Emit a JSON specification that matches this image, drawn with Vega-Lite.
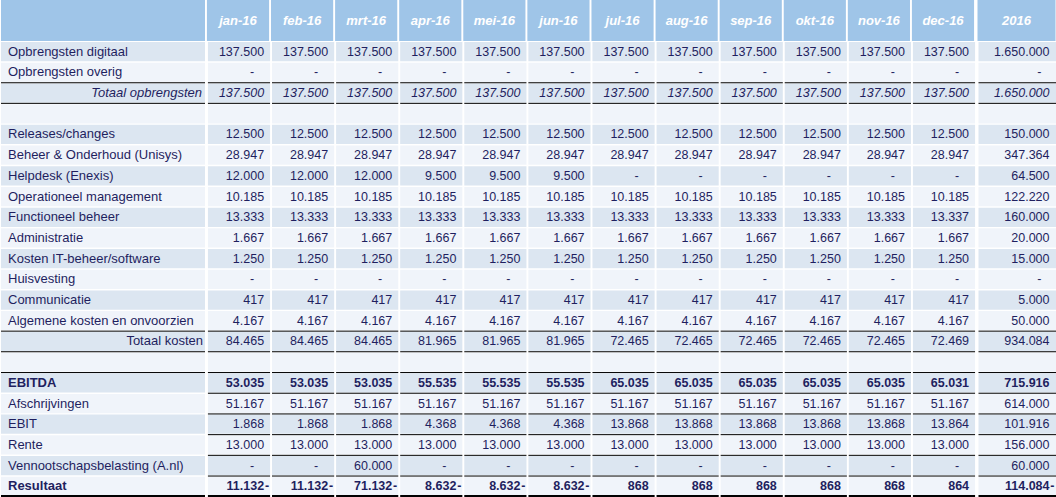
{
  "$schema": "https://vega.github.io/schema/vega-lite/v6.json",
  "padding": 0,
  "background": "white",
  "spacing": 0,
  "config": {
    "view": {"stroke": null},
    "concat": {"spacing": 0},
    "locale": {"number": {"decimal": ",", "thousands": ".", "grouping": [3], "currency": ["€ ", ""], "minus": ""}},
    "text": {"font": "Liberation Sans", "fontSize": 12.5, "color": "#1F1F5F", "baseline": "middle"}
  },
  "datasets": {
    "kolommen": [
      {"kolom": "jan-16"}, {"kolom": "feb-16"}, {"kolom": "mrt-16"}, {"kolom": "apr-16"}, {"kolom": "mei-16"}, {"kolom": "jun-16"},
      {"kolom": "jul-16"}, {"kolom": "aug-16"}, {"kolom": "sep-16"}, {"kolom": "okt-16"}, {"kolom": "nov-16"}, {"kolom": "dec-16"}
    ],
    "tabel": [
      {"nr": 1, "post": "Opbrengsten digitaal", "jan-16": 137500, "feb-16": 137500, "mrt-16": 137500, "apr-16": 137500, "mei-16": 137500, "jun-16": 137500, "jul-16": 137500, "aug-16": 137500, "sep-16": 137500, "okt-16": 137500, "nov-16": 137500, "dec-16": 137500, "2016": 1650000},
      {"nr": 2, "post": "Opbrengsten overig", "jan-16": 0, "feb-16": 0, "mrt-16": 0, "apr-16": 0, "mei-16": 0, "jun-16": 0, "jul-16": 0, "aug-16": 0, "sep-16": 0, "okt-16": 0, "nov-16": 0, "dec-16": 0, "2016": 0},
      {"nr": 3, "post": "Totaal opbrengsten", "jan-16": 137500, "feb-16": 137500, "mrt-16": 137500, "apr-16": 137500, "mei-16": 137500, "jun-16": 137500, "jul-16": 137500, "aug-16": 137500, "sep-16": 137500, "okt-16": 137500, "nov-16": 137500, "dec-16": 137500, "2016": 1650000},
      {"nr": 4, "post": ""},
      {"nr": 5, "post": "Releases/changes", "jan-16": 12500, "feb-16": 12500, "mrt-16": 12500, "apr-16": 12500, "mei-16": 12500, "jun-16": 12500, "jul-16": 12500, "aug-16": 12500, "sep-16": 12500, "okt-16": 12500, "nov-16": 12500, "dec-16": 12500, "2016": 150000},
      {"nr": 6, "post": "Beheer & Onderhoud (Unisys)", "jan-16": 28947, "feb-16": 28947, "mrt-16": 28947, "apr-16": 28947, "mei-16": 28947, "jun-16": 28947, "jul-16": 28947, "aug-16": 28947, "sep-16": 28947, "okt-16": 28947, "nov-16": 28947, "dec-16": 28947, "2016": 347364},
      {"nr": 7, "post": "Helpdesk (Enexis)", "jan-16": 12000, "feb-16": 12000, "mrt-16": 12000, "apr-16": 9500, "mei-16": 9500, "jun-16": 9500, "jul-16": 0, "aug-16": 0, "sep-16": 0, "okt-16": 0, "nov-16": 0, "dec-16": 0, "2016": 64500},
      {"nr": 8, "post": "Operationeel management", "jan-16": 10185, "feb-16": 10185, "mrt-16": 10185, "apr-16": 10185, "mei-16": 10185, "jun-16": 10185, "jul-16": 10185, "aug-16": 10185, "sep-16": 10185, "okt-16": 10185, "nov-16": 10185, "dec-16": 10185, "2016": 122220},
      {"nr": 9, "post": "Functioneel beheer", "jan-16": 13333, "feb-16": 13333, "mrt-16": 13333, "apr-16": 13333, "mei-16": 13333, "jun-16": 13333, "jul-16": 13333, "aug-16": 13333, "sep-16": 13333, "okt-16": 13333, "nov-16": 13333, "dec-16": 13337, "2016": 160000},
      {"nr": 10, "post": "Administratie", "jan-16": 1667, "feb-16": 1667, "mrt-16": 1667, "apr-16": 1667, "mei-16": 1667, "jun-16": 1667, "jul-16": 1667, "aug-16": 1667, "sep-16": 1667, "okt-16": 1667, "nov-16": 1667, "dec-16": 1667, "2016": 20000},
      {"nr": 11, "post": "Kosten IT-beheer/software", "jan-16": 1250, "feb-16": 1250, "mrt-16": 1250, "apr-16": 1250, "mei-16": 1250, "jun-16": 1250, "jul-16": 1250, "aug-16": 1250, "sep-16": 1250, "okt-16": 1250, "nov-16": 1250, "dec-16": 1250, "2016": 15000},
      {"nr": 12, "post": "Huisvesting", "jan-16": 0, "feb-16": 0, "mrt-16": 0, "apr-16": 0, "mei-16": 0, "jun-16": 0, "jul-16": 0, "aug-16": 0, "sep-16": 0, "okt-16": 0, "nov-16": 0, "dec-16": 0, "2016": 0},
      {"nr": 13, "post": "Communicatie", "jan-16": 417, "feb-16": 417, "mrt-16": 417, "apr-16": 417, "mei-16": 417, "jun-16": 417, "jul-16": 417, "aug-16": 417, "sep-16": 417, "okt-16": 417, "nov-16": 417, "dec-16": 417, "2016": 5000},
      {"nr": 14, "post": "Algemene kosten en onvoorzien", "jan-16": 4167, "feb-16": 4167, "mrt-16": 4167, "apr-16": 4167, "mei-16": 4167, "jun-16": 4167, "jul-16": 4167, "aug-16": 4167, "sep-16": 4167, "okt-16": 4167, "nov-16": 4167, "dec-16": 4167, "2016": 50000},
      {"nr": 15, "post": "Totaal kosten", "jan-16": 84465, "feb-16": 84465, "mrt-16": 84465, "apr-16": 81965, "mei-16": 81965, "jun-16": 81965, "jul-16": 72465, "aug-16": 72465, "sep-16": 72465, "okt-16": 72465, "nov-16": 72465, "dec-16": 72469, "2016": 934084},
      {"nr": 16, "post": ""},
      {"nr": 17, "post": "EBITDA", "jan-16": 53035, "feb-16": 53035, "mrt-16": 53035, "apr-16": 55535, "mei-16": 55535, "jun-16": 55535, "jul-16": 65035, "aug-16": 65035, "sep-16": 65035, "okt-16": 65035, "nov-16": 65035, "dec-16": 65031, "2016": 715916},
      {"nr": 18, "post": "Afschrijvingen", "jan-16": 51167, "feb-16": 51167, "mrt-16": 51167, "apr-16": 51167, "mei-16": 51167, "jun-16": 51167, "jul-16": 51167, "aug-16": 51167, "sep-16": 51167, "okt-16": 51167, "nov-16": 51167, "dec-16": 51167, "2016": 614000},
      {"nr": 19, "post": "EBIT", "jan-16": 1868, "feb-16": 1868, "mrt-16": 1868, "apr-16": 4368, "mei-16": 4368, "jun-16": 4368, "jul-16": 13868, "aug-16": 13868, "sep-16": 13868, "okt-16": 13868, "nov-16": 13868, "dec-16": 13864, "2016": 101916},
      {"nr": 20, "post": "Rente", "jan-16": 13000, "feb-16": 13000, "mrt-16": 13000, "apr-16": 13000, "mei-16": 13000, "jun-16": 13000, "jul-16": 13000, "aug-16": 13000, "sep-16": 13000, "okt-16": 13000, "nov-16": 13000, "dec-16": 13000, "2016": 156000},
      {"nr": 21, "post": "Vennootschapsbelasting (A.nl)", "jan-16": 0, "feb-16": 0, "mrt-16": 60000, "apr-16": 0, "mei-16": 0, "jun-16": 0, "jul-16": 0, "aug-16": 0, "sep-16": 0, "okt-16": 0, "nov-16": 0, "dec-16": 0, "2016": 60000},
      {"nr": 22, "post": "Resultaat", "jan-16": -11132, "feb-16": -11132, "mrt-16": -71132, "apr-16": -8632, "mei-16": -8632, "jun-16": -8632, "jul-16": 868, "aug-16": 868, "sep-16": 868, "okt-16": 868, "nov-16": 868, "dec-16": 864, "2016": -114084}
    ]
  },
  "vconcat": [
    {
      "spacing": 0,
      "hconcat": [
        {
          "width": 204, "height": 41,
          "data": {"values": [{"kop": "post"}]},
          "mark": {"type": "rect", "color": "#9FC5E8", "strokeWidth": 0},
          "encoding": {
            "x": {"datum": "post", "type": "nominal", "axis": null, "scale": {"paddingInner": 0, "paddingOuter": 0}},
            "y": {"datum": "kop", "type": "nominal", "axis": null, "scale": {"paddingInner": 0, "paddingOuter": 0}}
          }
        },
        {
          "width": 771, "height": 41,
          "data": {"name": "kolommen"},
          "encoding": {
            "x": {"field": "kolom", "type": "nominal", "axis": null, "scale": {"domain": ["jan-16","feb-16","mrt-16","apr-16","mei-16","jun-16","jul-16","aug-16","sep-16","okt-16","nov-16","dec-16"], "paddingInner": 0.03, "paddingOuter": 0.03}},
            "y": {"datum": "kop", "type": "nominal", "axis": null, "scale": {"paddingInner": 0, "paddingOuter": 0}}
          },
          "layer": [
            {"mark": {"type": "rect", "color": "#9FC5E8", "strokeWidth": 0}},
            {"mark": {"type": "text", "color": "white", "fontWeight": "bold", "fontStyle": "italic", "fontSize": 13}, "encoding": {"text": {"field": "kolom"}}}
          ]
        },
        {
          "width": 81, "height": 41,
          "data": {"values": [{"kolom": "2016"}]},
          "encoding": {
            "x": {"field": "kolom", "type": "nominal", "axis": null, "scale": {"domain": ["2016"], "paddingInner": 0, "paddingOuter": 0.0192}},
            "y": {"datum": "kop", "type": "nominal", "axis": null, "scale": {"paddingInner": 0, "paddingOuter": 0}}
          },
          "layer": [
            {"mark": {"type": "rect", "color": "#9FC5E8", "strokeWidth": 0}},
            {"mark": {"type": "text", "color": "white", "fontWeight": "bold", "fontStyle": "italic", "fontSize": 13}, "encoding": {"text": {"field": "kolom"}}}
          ]
        }
      ]
    },
    {
      "spacing": 0,
      "hconcat": [
        {
          "width": 204, "height": 456,
          "data": {"name": "tabel"},
          "layer": [
            {
              "mark": {"type": "rect", "strokeWidth": 0},
              "encoding": {
                "x": {"datum": "post", "type": "nominal", "axis": null, "scale": {"paddingInner": 0, "paddingOuter": 0}},
                "y": {"field": "nr", "type": "ordinal", "axis": null, "scale": {"paddingInner": 0.07, "paddingOuter": 0.05}},
                "color": {"condition": {"test": "datum.nr % 2 === 1", "value": "#DCE6F1"}, "value": "#F0F4FA"}
              }
            },
            {
              "transform": [{"filter": "indexof(['Totaal opbrengsten','Totaal kosten','EBITDA'], datum.post) >= 0"}],
              "mark": {"type": "rule", "color": "black", "strokeWidth": 1},
              "encoding": {"y": {"field": "nr", "type": "ordinal", "axis": null, "bandPosition": -0.035, "scale": {"paddingInner": 0.07, "paddingOuter": 0.05}}}
            },
            {
              "transform": [{"filter": "indexof(['Totaal opbrengsten','Totaal kosten'], datum.post) >= 0"}],
              "mark": {"type": "rule", "color": "black", "strokeWidth": 1},
              "encoding": {"y": {"field": "nr", "type": "ordinal", "axis": null, "bandPosition": 1.035, "scale": {"paddingInner": 0.07, "paddingOuter": 0.05}}}
            },
            {
              "transform": [{"filter": "datum.post === 'Resultaat'"}],
              "mark": {"type": "rule", "color": "black", "strokeWidth": 2},
              "encoding": {"y": {"field": "nr", "type": "ordinal", "axis": null, "bandPosition": 1, "scale": {"paddingInner": 0.07, "paddingOuter": 0.05}}}
            },
            {
              "transform": [{"filter": "datum.post !== '' && indexof(['Totaal opbrengsten','Totaal kosten','EBITDA','Resultaat'], datum.post) < 0"}],
              "mark": {"type": "text", "align": "left", "dx": 7, "fontSize": 13},
              "encoding": {
                "x": {"datum": "post", "type": "nominal", "axis": null, "bandPosition": 0, "scale": {"paddingInner": 0, "paddingOuter": 0}},
                "y": {"field": "nr", "type": "ordinal", "axis": null, "scale": {"paddingInner": 0.07, "paddingOuter": 0.05}},
                "text": {"field": "post"}
              }
            },
            {
              "transform": [{"filter": "indexof(['EBITDA','Resultaat'], datum.post) >= 0"}],
              "mark": {"type": "text", "align": "left", "dx": 7, "fontWeight": "bold", "fontSize": 13},
              "encoding": {
                "x": {"datum": "post", "type": "nominal", "axis": null, "bandPosition": 0, "scale": {"paddingInner": 0, "paddingOuter": 0}},
                "y": {"field": "nr", "type": "ordinal", "axis": null, "scale": {"paddingInner": 0.07, "paddingOuter": 0.05}},
                "text": {"field": "post"}
              }
            },
            {
              "transform": [{"filter": "datum.post === 'Totaal opbrengsten'"}],
              "mark": {"type": "text", "align": "right", "dx": -3, "fontStyle": "italic", "fontSize": 13},
              "encoding": {
                "x": {"datum": "post", "type": "nominal", "axis": null, "bandPosition": 1, "scale": {"paddingInner": 0, "paddingOuter": 0}},
                "y": {"field": "nr", "type": "ordinal", "axis": null, "scale": {"paddingInner": 0.07, "paddingOuter": 0.05}},
                "text": {"field": "post"}
              }
            },
            {
              "transform": [{"filter": "datum.post === 'Totaal kosten'"}],
              "mark": {"type": "text", "align": "right", "dx": -2, "fontSize": 13},
              "encoding": {
                "x": {"datum": "post", "type": "nominal", "axis": null, "bandPosition": 1, "scale": {"paddingInner": 0, "paddingOuter": 0}},
                "y": {"field": "nr", "type": "ordinal", "axis": null, "scale": {"paddingInner": 0.07, "paddingOuter": 0.05}},
                "text": {"field": "post"}
              }
            }
          ]
        },
        {
          "width": 771, "height": 456,
          "data": {"name": "tabel"},
          "transform": [{"fold": ["jan-16","feb-16","mrt-16","apr-16","mei-16","jun-16","jul-16","aug-16","sep-16","okt-16","nov-16","dec-16"], "as": ["kolom", "waarde"]}],
          "layer": [
            {
              "mark": {"type": "rect", "strokeWidth": 0},
              "encoding": {
                "x": {"field": "kolom", "type": "nominal", "axis": null, "scale": {"domain": ["jan-16","feb-16","mrt-16","apr-16","mei-16","jun-16","jul-16","aug-16","sep-16","okt-16","nov-16","dec-16"], "paddingInner": 0.03, "paddingOuter": 0.03}},
                "y": {"field": "nr", "type": "ordinal", "axis": null, "scale": {"paddingInner": 0.07, "paddingOuter": 0.05}},
                "color": {"condition": {"test": "datum.nr % 2 === 1", "value": "#DCE6F1"}, "value": "#F0F4FA"}
              }
            },
            {
              "transform": [{"filter": "indexof(['Totaal opbrengsten','Totaal kosten','EBITDA','Afschrijvingen','EBIT','Rente','Vennootschapsbelasting (A.nl)','Resultaat'], datum.post) >= 0"}],
              "mark": {"type": "rule", "color": "black", "strokeWidth": 1},
              "encoding": {
                "x": {"field": "kolom", "type": "nominal", "axis": null, "bandPosition": 0, "scale": {"domain": ["jan-16","feb-16","mrt-16","apr-16","mei-16","jun-16","jul-16","aug-16","sep-16","okt-16","nov-16","dec-16"], "paddingInner": 0.03, "paddingOuter": 0.03}},
                "x2": {"field": "kolom", "bandPosition": 1},
                "y": {"field": "nr", "type": "ordinal", "axis": null, "bandPosition": -0.035, "scale": {"paddingInner": 0.07, "paddingOuter": 0.05}}
              }
            },
            {
              "transform": [{"filter": "indexof(['Totaal opbrengsten','Totaal kosten'], datum.post) >= 0"}],
              "mark": {"type": "rule", "color": "black", "strokeWidth": 1},
              "encoding": {
                "x": {"field": "kolom", "type": "nominal", "axis": null, "bandPosition": 0, "scale": {"domain": ["jan-16","feb-16","mrt-16","apr-16","mei-16","jun-16","jul-16","aug-16","sep-16","okt-16","nov-16","dec-16"], "paddingInner": 0.03, "paddingOuter": 0.03}},
                "x2": {"field": "kolom", "bandPosition": 1},
                "y": {"field": "nr", "type": "ordinal", "axis": null, "bandPosition": 1.035, "scale": {"paddingInner": 0.07, "paddingOuter": 0.05}}
              }
            },
            {
              "transform": [{"filter": "datum.post === 'Resultaat'"}],
              "mark": {"type": "rule", "color": "black", "strokeWidth": 2},
              "encoding": {
                "x": {"field": "kolom", "type": "nominal", "axis": null, "bandPosition": 0, "scale": {"domain": ["jan-16","feb-16","mrt-16","apr-16","mei-16","jun-16","jul-16","aug-16","sep-16","okt-16","nov-16","dec-16"], "paddingInner": 0.03, "paddingOuter": 0.03}},
                "x2": {"field": "kolom", "bandPosition": 1},
                "y": {"field": "nr", "type": "ordinal", "axis": null, "bandPosition": 1, "scale": {"paddingInner": 0.07, "paddingOuter": 0.05}}
              }
            },
            {
              "transform": [{"filter": "isValid(datum.waarde) && datum.waarde !== 0 && indexof(['Totaal opbrengsten','EBITDA','Resultaat'], datum.post) < 0"}],
              "mark": {"type": "text", "align": "right", "dx": -6},
              "encoding": {
                "x": {"field": "kolom", "type": "nominal", "axis": null, "bandPosition": 1, "scale": {"domain": ["jan-16","feb-16","mrt-16","apr-16","mei-16","jun-16","jul-16","aug-16","sep-16","okt-16","nov-16","dec-16"], "paddingInner": 0.03, "paddingOuter": 0.03}},
                "y": {"field": "nr", "type": "ordinal", "axis": null, "scale": {"paddingInner": 0.07, "paddingOuter": 0.05}},
                "text": {"field": "waarde", "type": "quantitative", "format": ",.0f"}
              }
            },
            {
              "transform": [{"filter": "isValid(datum.waarde) && datum.waarde !== 0 && datum.post === 'Totaal opbrengsten'"}],
              "mark": {"type": "text", "align": "right", "dx": -6, "fontStyle": "italic"},
              "encoding": {
                "x": {"field": "kolom", "type": "nominal", "axis": null, "bandPosition": 1, "scale": {"domain": ["jan-16","feb-16","mrt-16","apr-16","mei-16","jun-16","jul-16","aug-16","sep-16","okt-16","nov-16","dec-16"], "paddingInner": 0.03, "paddingOuter": 0.03}},
                "y": {"field": "nr", "type": "ordinal", "axis": null, "scale": {"paddingInner": 0.07, "paddingOuter": 0.05}},
                "text": {"field": "waarde", "type": "quantitative", "format": ",.0f"}
              }
            },
            {
              "transform": [{"filter": "isValid(datum.waarde) && datum.waarde !== 0 && indexof(['EBITDA','Resultaat'], datum.post) >= 0"}],
              "mark": {"type": "text", "align": "right", "dx": -6, "fontWeight": "bold"},
              "encoding": {
                "x": {"field": "kolom", "type": "nominal", "axis": null, "bandPosition": 1, "scale": {"domain": ["jan-16","feb-16","mrt-16","apr-16","mei-16","jun-16","jul-16","aug-16","sep-16","okt-16","nov-16","dec-16"], "paddingInner": 0.03, "paddingOuter": 0.03}},
                "y": {"field": "nr", "type": "ordinal", "axis": null, "scale": {"paddingInner": 0.07, "paddingOuter": 0.05}},
                "text": {"field": "waarde", "type": "quantitative", "format": ",.0f"}
              }
            },
            {
              "transform": [{"filter": "datum.waarde === 0"}],
              "mark": {"type": "text", "align": "right", "dx": -16},
              "encoding": {
                "x": {"field": "kolom", "type": "nominal", "axis": null, "bandPosition": 1, "scale": {"domain": ["jan-16","feb-16","mrt-16","apr-16","mei-16","jun-16","jul-16","aug-16","sep-16","okt-16","nov-16","dec-16"], "paddingInner": 0.03, "paddingOuter": 0.03}},
                "y": {"field": "nr", "type": "ordinal", "axis": null, "scale": {"paddingInner": 0.07, "paddingOuter": 0.05}},
                "text": {"value": "-"}
              }
            },
            {
              "transform": [{"filter": "datum.waarde < 0"}],
              "mark": {"type": "text", "align": "right", "dx": -1, "fontWeight": "bold"},
              "encoding": {
                "x": {"field": "kolom", "type": "nominal", "axis": null, "bandPosition": 1, "scale": {"domain": ["jan-16","feb-16","mrt-16","apr-16","mei-16","jun-16","jul-16","aug-16","sep-16","okt-16","nov-16","dec-16"], "paddingInner": 0.03, "paddingOuter": 0.03}},
                "y": {"field": "nr", "type": "ordinal", "axis": null, "scale": {"paddingInner": 0.07, "paddingOuter": 0.05}},
                "text": {"value": "-"}
              }
            }
          ]
        },
        {
          "width": 81, "height": 456,
          "data": {"name": "tabel"},
          "transform": [{"fold": ["2016"], "as": ["kolom", "waarde"]}],
          "layer": [
            {
              "mark": {"type": "rect", "strokeWidth": 0},
              "encoding": {
                "x": {"field": "kolom", "type": "nominal", "axis": null, "scale": {"domain": ["2016"], "paddingInner": 0, "paddingOuter": 0.0192}},
                "y": {"field": "nr", "type": "ordinal", "axis": null, "scale": {"paddingInner": 0.07, "paddingOuter": 0.05}},
                "color": {"condition": {"test": "datum.nr % 2 === 1", "value": "#DCE6F1"}, "value": "#F0F4FA"}
              }
            },
            {
              "transform": [{"filter": "indexof(['Totaal opbrengsten','Totaal kosten','EBITDA','Afschrijvingen','EBIT','Rente','Vennootschapsbelasting (A.nl)','Resultaat'], datum.post) >= 0"}],
              "mark": {"type": "rule", "color": "black", "strokeWidth": 1},
              "encoding": {
                "x": {"field": "kolom", "type": "nominal", "axis": null, "bandPosition": 0, "scale": {"domain": ["2016"], "paddingInner": 0, "paddingOuter": 0.0192}},
                "x2": {"field": "kolom", "bandPosition": 1},
                "y": {"field": "nr", "type": "ordinal", "axis": null, "bandPosition": -0.035, "scale": {"paddingInner": 0.07, "paddingOuter": 0.05}}
              }
            },
            {
              "transform": [{"filter": "indexof(['Totaal opbrengsten','Totaal kosten'], datum.post) >= 0"}],
              "mark": {"type": "rule", "color": "black", "strokeWidth": 1},
              "encoding": {
                "x": {"field": "kolom", "type": "nominal", "axis": null, "bandPosition": 0, "scale": {"domain": ["2016"], "paddingInner": 0, "paddingOuter": 0.0192}},
                "x2": {"field": "kolom", "bandPosition": 1},
                "y": {"field": "nr", "type": "ordinal", "axis": null, "bandPosition": 1.035, "scale": {"paddingInner": 0.07, "paddingOuter": 0.05}}
              }
            },
            {
              "transform": [{"filter": "datum.post === 'Resultaat'"}],
              "mark": {"type": "rule", "color": "black", "strokeWidth": 2},
              "encoding": {
                "x": {"field": "kolom", "type": "nominal", "axis": null, "bandPosition": 0, "scale": {"domain": ["2016"], "paddingInner": 0, "paddingOuter": 0.0192}},
                "x2": {"field": "kolom", "bandPosition": 1},
                "y": {"field": "nr", "type": "ordinal", "axis": null, "bandPosition": 1, "scale": {"paddingInner": 0.07, "paddingOuter": 0.05}}
              }
            },
            {
              "transform": [{"filter": "isValid(datum.waarde) && datum.waarde !== 0 && indexof(['Totaal opbrengsten','EBITDA','Resultaat'], datum.post) < 0"}],
              "mark": {"type": "text", "align": "right", "dx": -7},
              "encoding": {
                "x": {"field": "kolom", "type": "nominal", "axis": null, "bandPosition": 1, "scale": {"domain": ["2016"], "paddingInner": 0, "paddingOuter": 0.0192}},
                "y": {"field": "nr", "type": "ordinal", "axis": null, "scale": {"paddingInner": 0.07, "paddingOuter": 0.05}},
                "text": {"field": "waarde", "type": "quantitative", "format": ",.0f"}
              }
            },
            {
              "transform": [{"filter": "isValid(datum.waarde) && datum.waarde !== 0 && datum.post === 'Totaal opbrengsten'"}],
              "mark": {"type": "text", "align": "right", "dx": -7, "fontStyle": "italic"},
              "encoding": {
                "x": {"field": "kolom", "type": "nominal", "axis": null, "bandPosition": 1, "scale": {"domain": ["2016"], "paddingInner": 0, "paddingOuter": 0.0192}},
                "y": {"field": "nr", "type": "ordinal", "axis": null, "scale": {"paddingInner": 0.07, "paddingOuter": 0.05}},
                "text": {"field": "waarde", "type": "quantitative", "format": ",.0f"}
              }
            },
            {
              "transform": [{"filter": "isValid(datum.waarde) && datum.waarde !== 0 && indexof(['EBITDA','Resultaat'], datum.post) >= 0"}],
              "mark": {"type": "text", "align": "right", "dx": -7, "fontWeight": "bold"},
              "encoding": {
                "x": {"field": "kolom", "type": "nominal", "axis": null, "bandPosition": 1, "scale": {"domain": ["2016"], "paddingInner": 0, "paddingOuter": 0.0192}},
                "y": {"field": "nr", "type": "ordinal", "axis": null, "scale": {"paddingInner": 0.07, "paddingOuter": 0.05}},
                "text": {"field": "waarde", "type": "quantitative", "format": ",.0f"}
              }
            },
            {
              "transform": [{"filter": "datum.waarde === 0"}],
              "mark": {"type": "text", "align": "right", "dx": -15},
              "encoding": {
                "x": {"field": "kolom", "type": "nominal", "axis": null, "bandPosition": 1, "scale": {"domain": ["2016"], "paddingInner": 0, "paddingOuter": 0.0192}},
                "y": {"field": "nr", "type": "ordinal", "axis": null, "scale": {"paddingInner": 0.07, "paddingOuter": 0.05}},
                "text": {"value": "-"}
              }
            },
            {
              "transform": [{"filter": "datum.waarde < 0"}],
              "mark": {"type": "text", "align": "right", "dx": -2, "fontWeight": "bold"},
              "encoding": {
                "x": {"field": "kolom", "type": "nominal", "axis": null, "bandPosition": 1, "scale": {"domain": ["2016"], "paddingInner": 0, "paddingOuter": 0.0192}},
                "y": {"field": "nr", "type": "ordinal", "axis": null, "scale": {"paddingInner": 0.07, "paddingOuter": 0.05}},
                "text": {"value": "-"}
              }
            }
          ]
        }
      ]
    }
  ]
}
